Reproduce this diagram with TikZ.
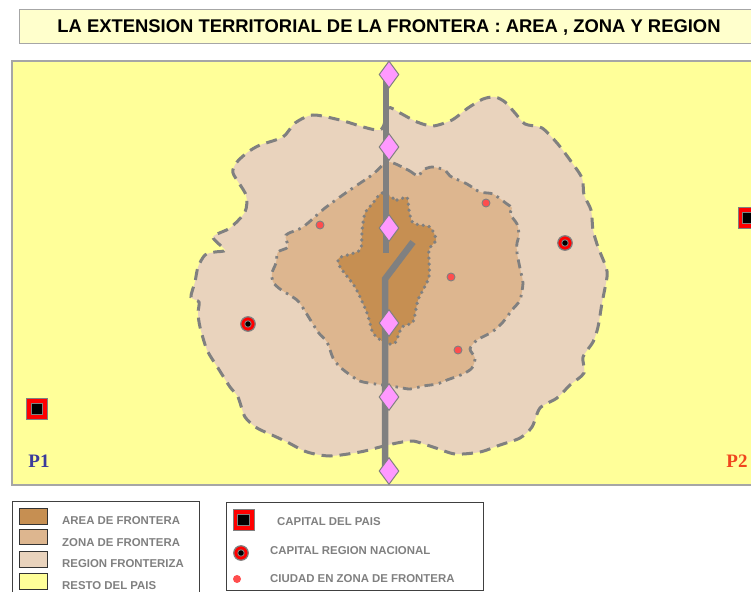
\documentclass[tikz,border=0pt]{standalone}
\usepackage{fontspec}
\setmainfont{Liberation Sans}
\newfontfamily\serifp{Liberation Serif}
\usetikzlibrary{shapes.geometric}
\definecolor{mapyellow}{HTML}{FFFF99}
\definecolor{titleyellow}{HTML}{FFFFCC}
\definecolor{regioncol}{HTML}{E9D3BD}
\definecolor{zonecol}{HTML}{DDB68F}
\definecolor{areacol}{HTML}{C68F52}
\definecolor{linegray}{HTML}{808080}
\definecolor{framegray}{HTML}{A6A6A6}
\definecolor{diamondcol}{HTML}{FF99FF}
\definecolor{cityred}{HTML}{FF4D4D}
\tikzset{
  regionfill/.style={fill=regioncol},
  regionline/.style={draw=linegray,line width=3pt,dash pattern=on 11pt off 7pt},
  zonefill/.style={fill=zonecol},
  zoneline/.style={draw=linegray,line width=2.8pt,dash pattern=on 9pt off 5pt on 2.5pt off 5.5pt},
  areafill/.style={fill=areacol},
  arealine/.style={draw=linegray,line width=3.6pt,line cap=round,dash pattern=on 0pt off 6pt},
  roadline/.style={draw=linegray,line width=6.5pt},
  crossing/.style={diamond,draw=linegray,fill=diamondcol,line width=1pt,minimum width=20pt,minimum height=27pt,aspect=.74,inner sep=0pt},
  citydot/.style={circle,draw=linegray,fill=cityred,line width=.9pt,minimum size=8pt,inner sep=0pt},
  capouter/.style={rectangle,draw=linegray,fill=red,line width=1pt,minimum size=21pt,inner sep=0pt},
  capinner/.style={rectangle,draw=linegray,fill=black,line width=1.2pt,minimum size=11.5pt,inner sep=0pt},
  regouter/.style={circle,draw=linegray,fill=red,line width=1.2pt,minimum size=14.5pt,inner sep=0pt},
  reginner/.style={circle,draw=linegray,fill=black,line width=.9pt,minimum size=6.5pt,inner sep=0pt},
  swatch/.style={draw=black!80,line width=1pt},
  legbox/.style={draw=black!75,line width=1pt,fill=white},
  legtext/.style={anchor=west,inner sep=0pt,text=linegray,font=\fontsize{11.4}{13}\selectfont\bfseries},
}
\begin{document}
\begin{tikzpicture}[x=1pt,y=-1pt]
\useasboundingbox (0,0) rectangle (751,591);
\clip (0,0) rectangle (751,591);
\fill[white] (0,0) rectangle (751,591);
% title
\node[draw=framegray,fill=titleyellow,line width=1pt,minimum width=740pt,minimum height=34pt,inner sep=0pt,anchor=north west] (titlebox) at (19,9) {};
\node[inner sep=0pt,font=\fontsize{18.4}{20}\selectfont\bfseries] (title) at (389,27.5) {LA EXTENSION TERRITORIAL DE LA FRONTERA : AREA , ZONA Y REGION};
% map
\draw[draw=framegray,line width=1.2pt,fill=mapyellow] (12,61) rectangle (770,485);
% region
\def\regionpath{plot[smooth cycle,tension=.45] coordinates {
(388,108)(400,113)(417,122)(433,126)(452,120)(468,108)(483,99)(495,97)(505,102)(515,113)(525,124)(542,128)(557,143)(570,160)(582,178)(584,195)(591,210)(593,230)(598,247)(606,267)(607,277)(602,303)(598,327)(593,342)(583,357)(584,373)(570,385)(557,398)(540,408)(532,427)(520,438)(500,445)(480,452)(455,454)(433,447)(413,441)(397,443)(380,447)(360,452)(330,456)(307,452)(287,442)(272,435)(257,428)(245,417)(238,397)(230,387)(218,368)(207,350)(200,327)(198,313)(199,302)(191,297)(195,282)(198,267)(205,255)(215,252)(225,250)(213,237)(230,228)(245,212)(246,195)(233,173)(237,162)(248,152)(260,145)(283,137)(295,123)(313,115)(340,120)(380,130)}}
\path[regionfill] \regionpath;
\path[regionline] \regionpath;
% zone
\def\zonepath{plot[smooth cycle,tension=.45] coordinates {
(388,162)(408,170)(418,176)(423,170)(432,167)(445,170)(450,176)(467,184)(480,192)(493,194)(507,204)(512,208)(510,214)(517,224)(519,235)(517,243)(517,253)(521,273)(523,283)(520,300)(512,310)(503,322)(492,332)(477,340)(470,349)(475,358)(472,368)(463,374)(447,380)(437,384)(423,386)(410,389)(397,387)(363,382)(353,377)(340,367)(333,358)(327,342)(318,332)(303,308)(297,300)(280,289)(273,282)(272,273)(276,263)(278,252)(288,247)(286,235)(303,227)(325,208)(347,192)(372,175)}}
\path[zonefill] \zonepath;
\path[zoneline] \zonepath;
% area
\def\areapath{plot[smooth cycle,tension=.4] coordinates {
(382,193)(397,200)(407,197)(409,210)(413,223)(430,227)(436,240)(429,250)(429,277)(418,300)(413,322)(402,327)(395,343)(385,343)(373,333)(367,313)(355,287)(340,267)(339,258)(360,250)(362,230)(365,213)(373,203)}}
\path[areafill] \areapath;
\path[arealine] \areapath;
% roads
\coordinate (roadtop) at (386,75);
\coordinate (roadend) at (386,253);
\coordinate (forkend) at (413,242);
\coordinate (fork) at (385,279);
\coordinate (roadbottom) at (385,470);
\draw[roadline] (roadtop) -- (roadend);
\draw[roadline,line join=miter] (forkend) -- (fork) -- (roadbottom);
% crossings
\node[crossing] (c1) at (389,74.5) {};
\node[crossing] (c2) at (389,147) {};
\node[crossing] (c3) at (389,228) {};
\node[crossing] (c4) at (389,323) {};
\node[crossing] (c5) at (389,397) {};
\node[crossing] (c6) at (389,471) {};
% cities
\node[citydot] (v1) at (320,225) {};
\node[citydot] (v2) at (486,203) {};
\node[citydot] (v3) at (451,277) {};
\node[citydot] (v4) at (458,350) {};
% regional capitals
\node[regouter] (r1) at (565,243) {};
\node[reginner] at (r1) {};
\node[regouter] (r2) at (248,324) {};
\node[reginner] at (r2) {};
% national capitals
\node[capouter] (p1) at (37,409) {};
\node[capinner] at (p1) {};
\node[capouter] (p2) at (748.5,218) {};
\node[capinner] at (p2) {};
\node[inner sep=0pt,text={rgb,255:red,59;green,59;blue,155},font=\serifp\fontsize{19}{20}\selectfont\bfseries] (lp1) at (39,461) {P1};
\node[inner sep=0pt,text={rgb,255:red,240;green,70;blue,30},font=\serifp\fontsize{19}{20}\selectfont\bfseries] (lp2) at (737,461) {P2};
% legend 1
\draw[legbox] (12.5,501.5) rectangle (199.5,600);
\draw[swatch,fill=areacol] (19,508) rectangle (47,524);
\draw[swatch,fill=zonecol] (19,529) rectangle (47,544.5);
\draw[swatch,fill=regioncol] (19,551) rectangle (47,567);
\draw[swatch,fill=mapyellow] (19,573.5) rectangle (47,589);
\node[legtext] (t1) at (62,520.5) {AREA DE FRONTERA};
\node[legtext] (t2) at (62,542.5) {ZONA DE FRONTERA};
\node[legtext] (t3) at (62,564) {REGION FRONTERIZA};
\node[legtext] (t4) at (62,586) {RESTO DEL PAIS};
% legend 2
\draw[legbox] (226.5,502.5) rectangle (483,590);
\node[capouter] (k1) at (243.5,520) {};
\node[capinner] at (k1) {};
\node[regouter] (k2) at (241,553) {};
\node[reginner] at (k2) {};
\node[citydot,draw=none,minimum size=8pt] (k3) at (237,579) {};
\node[legtext] (t5) at (277,521.5) {CAPITAL DEL PAIS};
\node[legtext] (t6) at (270,551) {CAPITAL REGION NACIONAL};
\node[legtext] (t7) at (270,578.5) {CIUDAD EN ZONA DE FRONTERA};
\end{tikzpicture}
\end{document}
